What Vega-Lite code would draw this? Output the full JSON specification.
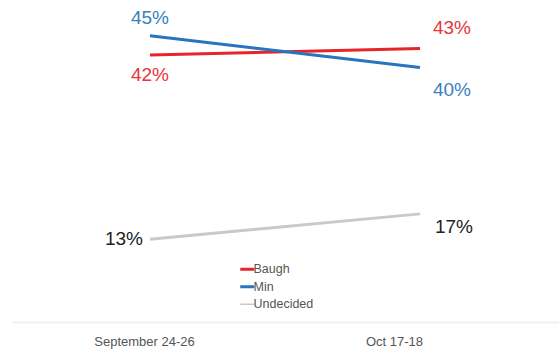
{
  "$schema": "https://vega.github.io/schema/vega-lite/v6.json",
  "width": 547,
  "height": 318,
  "autosize": "none",
  "padding": {"left": 12, "top": 4, "right": 0, "bottom": 31},
  "background": "white",
  "config": {"font": "Liberation Sans", "view": {"stroke": null}},
  "data": {"values": [
    {"t": 0, "date": "September 24-26", "candidate": "Baugh", "pct": 42},
    {"t": 1, "date": "Oct 17-18", "candidate": "Baugh", "pct": 43},
    {"t": 0, "date": "September 24-26", "candidate": "Min", "pct": 45},
    {"t": 1, "date": "Oct 17-18", "candidate": "Min", "pct": 40},
    {"t": 0, "date": "September 24-26", "candidate": "Undecided", "pct": 13},
    {"t": 1, "date": "Oct 17-18", "candidate": "Undecided", "pct": 17}
  ]},
  "encoding": {
    "x": {"field": "t", "type": "quantitative",
      "scale": {"domain": [-0.511, 1.515], "nice": false, "zero": false},
      "axis": {"title": null, "values": [-0.022, 0.904], "labelExpr": "datum.value < 0.5 ? 'September 24-26' : 'Oct 17-18'",
        "grid": false, "ticks": false, "domain": true, "domainColor": "#ececec", "domainWidth": 1.5,
        "labelFontSize": 13, "labelColor": "#555", "labelPadding": 13, "labelFlush": false}},
    "y": {"field": "pct", "type": "quantitative",
      "scale": {"domain": [0, 50], "nice": false},
      "axis": null}
  },
  "layer": [
    {
      "mark": {"type": "line", "strokeWidth": 3},
      "encoding": {
        "color": {"field": "candidate", "type": "nominal",
          "scale": {"domain": ["Baugh", "Min", "Undecided"], "range": ["#e5252a", "#2874bf", "#c9c9c9"]},
          "legend": {"title": null, "orient": "none", "legendX": 229, "legendY": 259,
            "symbolType": "stroke", "symbolSize": 196, "symbolStrokeWidth": 3,
            "labelFontSize": 12.5, "labelColor": "#555", "labelOffset": 0, "rowPadding": 4.5,
            "encode": {"symbols": {"update": {"strokeWidth": {"signal": "datum.value === 'Undecided' ? 1.5 : 3"}}}}}},
        "strokeWidth": {"condition": {"test": "datum.candidate === 'Undecided'", "value": 2}, "value": 3}
      }
    },
    {"transform": [{"filter": "datum.candidate === 'Baugh' && datum.t === 0"}],
     "mark": {"type": "text", "align": "center", "dy": 20, "fontSize": 19, "color": "#e8343a"},
     "encoding": {"text": {"value": "42%"}}},
    {"transform": [{"filter": "datum.candidate === 'Min' && datum.t === 0"}],
     "mark": {"type": "text", "align": "center", "dy": -18, "fontSize": 19, "color": "#3a7fc0"},
     "encoding": {"text": {"value": "45%"}}},
    {"transform": [{"filter": "datum.candidate === 'Undecided' && datum.t === 0"}],
     "mark": {"type": "text", "align": "right", "dx": -7, "dy": 0, "fontSize": 19, "color": "#222"},
     "encoding": {"text": {"value": "13%"}}},
    {"transform": [{"filter": "datum.candidate === 'Baugh' && datum.t === 1"}],
     "mark": {"type": "text", "align": "left", "dx": 13, "dy": -21, "fontSize": 19, "color": "#e8343a"},
     "encoding": {"text": {"value": "43%"}}},
    {"transform": [{"filter": "datum.candidate === 'Min' && datum.t === 1"}],
     "mark": {"type": "text", "align": "left", "dx": 13, "dy": 22, "fontSize": 19, "color": "#3a7fc0"},
     "encoding": {"text": {"value": "40%"}}},
    {"transform": [{"filter": "datum.candidate === 'Undecided' && datum.t === 1"}],
     "mark": {"type": "text", "align": "left", "dx": 15, "dy": 13, "fontSize": 19, "color": "#222"},
     "encoding": {"text": {"value": "17%"}}}
  ]
}
